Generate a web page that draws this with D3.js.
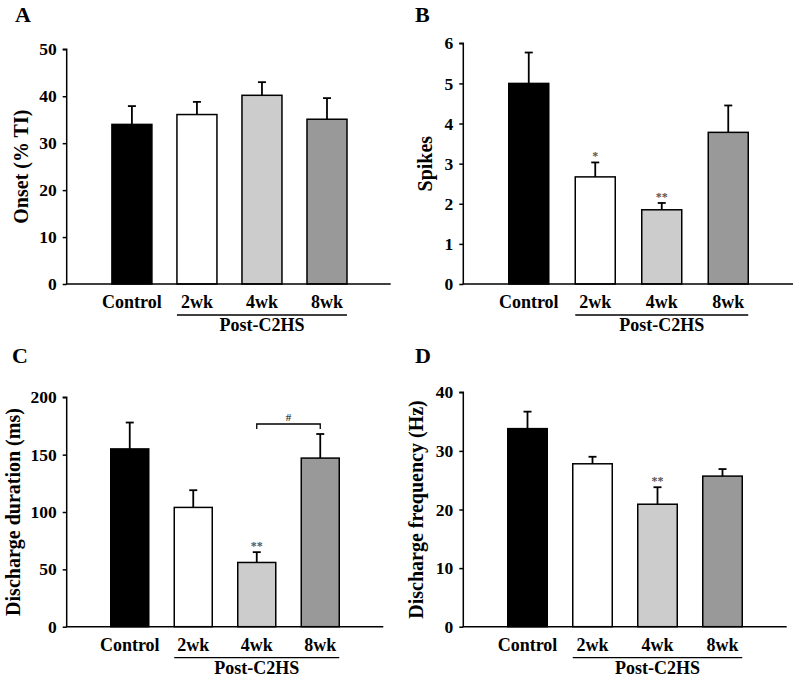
<!DOCTYPE html>
<html>
<head>
<meta charset="utf-8">
<script src="https://cdn.jsdelivr.net/npm/d3@7"></script>
<style>
  html, body { margin: 0; padding: 0; background: #fff; }
  svg { display: block; }
  text { font-family: "Liberation Serif", "Times New Roman", serif; font-weight: bold; }
</style>
</head>
<body>
<svg id="chart" width="800" height="679"></svg>
<script>
// ---- Data ----
const categories = ["Control", "2wk", "4wk", "8wk"];
const groupLabel = "Post-C2HS";
const barColors = ["#000000", "#ffffff", "#cccccc", "#999999"];

const onsetValues = [34.0, 36.1, 40.2, 35.1];
const onsetErrors = [3.9, 2.7, 2.8, 4.5];
const onsetTicks = [0, 10, 20, 30, 40, 50];
const onsetSig = ["", "", "", ""];

const spikesValues = [5.0, 2.67, 1.85, 3.78];
const spikesErrors = [0.77, 0.36, 0.17, 0.67];
const spikesTicks = [0, 1, 2, 3, 4, 5, 6];
const spikesSig = ["", "*", "**", ""];

const durationValues = [155, 104, 56, 147];
const durationErrors = [23, 15, 9, 21];
const durationTicks = [0, 50, 100, 150, 200];
const durationSig = ["", "", "**", ""];

const frequencyValues = [33.8, 27.8, 20.9, 25.7];
const frequencyErrors = [2.9, 1.2, 2.9, 1.2];
const frequencyTicks = [0, 10, 20, 30, 40];
const frequencySig = ["", "", "**", ""];

// ---- Layout ----
const panels = [
  { letter: "A", lx: 15, ly: 22, title: "Onset (% TI)", tx: 28, values: onsetValues, errors: onsetErrors, ticks: onsetTicks, sig: onsetSig,
    ax: 66.7, right: 390.7, top: 49.3, bottom: 284, band: [99.4, 359.5], bw: 40 },
  { letter: "B", lx: 415, ly: 22, title: "Spikes", tx: 432, values: spikesValues, errors: spikesErrors, ticks: spikesTicks, sig: spikesSig,
    ax: 463.3, right: 793, top: 43.3, bottom: 284, band: [495.5, 761.5], bw: 40 },
  { letter: "C", lx: 12, ly: 363, title: "Discharge duration (ms)", tx: 20, values: durationValues, errors: durationErrors, ticks: durationTicks, sig: durationSig,
    ax: 66.7, right: 383.3, top: 397.3, bottom: 626.7, band: [98, 352], bw: 38, bracket: [2, 3] },
  { letter: "D", lx: 415, ly: 363, title: "Discharge frequency (Hz)", tx: 423, values: frequencyValues, errors: frequencyErrors, ticks: frequencyTicks, sig: frequencySig,
    ax: 463.3, right: 786.7, top: 392.3, bottom: 626.7, band: [495, 755], bw: 39.5 }
];

const svg = d3.select("#chart");

panels.forEach(p => {
  const g = svg.append("g");
  const maxT = p.ticks[p.ticks.length - 1];
  const y = d3.scaleLinear().domain([0, maxT]).range([p.bottom, p.top]);
  const step = (p.band[1] - p.band[0]) / categories.length;
  const x = d3.scaleBand().domain(categories).range(p.band)
    .paddingInner((step - p.bw) / step).paddingOuter((step - p.bw) / step / 2);
  const bw = x.bandwidth();

  // panel letter
  g.append("text").attr("x", p.lx).attr("y", p.ly).attr("font-size", 22).text(p.letter);

  // y axis
  const yAxis = g.append("g").attr("transform", `translate(${p.ax},0)`)
    .call(d3.axisLeft(y).tickValues(p.ticks).tickSize(4).tickPadding(6).tickFormat(d3.format("d")));
  yAxis.select(".domain").attr("stroke", "#000").attr("stroke-width", 1.5).attr("d", `M-4,${p.top}H0V${p.bottom}`);
  yAxis.selectAll(".tick line").attr("stroke", "#000").attr("stroke-width", 1.5);
  yAxis.selectAll(".tick text").attr("font-size", 17.5).attr("font-family", "Liberation Serif").attr("font-weight", "bold").attr("fill", "#000");

  // y title
  g.append("text")
    .attr("transform", `translate(${p.tx},${(p.top + p.bottom) / 2}) rotate(-90)`)
    .attr("text-anchor", "middle").attr("font-size", 20).text(p.title);

  // bars
  g.selectAll("rect.bar").data(categories).join("rect")
    .attr("x", d => x(d)).attr("width", bw)
    .attr("y", (d, i) => y(p.values[i]))
    .attr("height", (d, i) => p.bottom - y(p.values[i]))
    .attr("fill", (d, i) => barColors[i])
    .attr("stroke", "#000").attr("stroke-width", 1.5);

  // error bars (upper only)
  categories.forEach((c, i) => {
    const cx = x(c) + bw / 2;
    const yTop = y(p.values[i] + p.errors[i]);
    g.append("line").attr("x1", cx).attr("x2", cx).attr("y1", y(p.values[i])).attr("y2", yTop)
      .attr("stroke", "#000").attr("stroke-width", 1.8);
    g.append("line").attr("x1", cx - 4).attr("x2", cx + 4).attr("y1", yTop).attr("y2", yTop)
      .attr("stroke", "#000").attr("stroke-width", 1.8);
    if (p.sig[i]) {
      g.append("text").attr("x", cx).attr("y", yTop - 2).attr("text-anchor", "middle")
        .attr("font-size", 12).attr("font-weight", "normal").attr("fill", "#555").text(p.sig[i]);
    }
  });

  // bracket
  if (p.bracket) {
    const xa = x(categories[p.bracket[0]]) + bw / 2;
    const xb = x(categories[p.bracket[1]]) + bw / 2;
    const yb = y(p.values[p.bracket[1]] + p.errors[p.bracket[1]]) - 10;
    g.append("path").attr("d", `M${xa},${yb + 5}V${yb}H${xb}V${yb + 5}`)
      .attr("fill", "none").attr("stroke", "#000").attr("stroke-width", 1.3);
    g.append("text").attr("x", (xa + xb) / 2).attr("y", yb - 3).attr("text-anchor", "middle")
      .attr("font-size", 11).attr("font-weight", "normal").attr("fill", "#444").text("#");
  }

  // x axis line
  g.append("line").attr("x1", p.ax - 0.75).attr("x2", p.right).attr("y1", p.bottom).attr("y2", p.bottom)
    .attr("stroke", "#000").attr("stroke-width", 1.5);

  // category labels
  g.selectAll("text.cat").data(categories).join("text")
    .attr("class", "cat")
    .attr("x", d => x(d) + bw / 2).attr("y", p.bottom + 24)
    .attr("text-anchor", "middle").attr("font-size", 18).text(d => d);

  // group underline and label
  const ux0 = x(categories[1]);
  const ux1 = x(categories[3]) + bw;
  g.append("line").attr("x1", ux0).attr("x2", ux1).attr("y1", p.bottom + 31).attr("y2", p.bottom + 31)
    .attr("stroke", "#000").attr("stroke-width", 1.3);
  g.append("text").attr("x", (ux0 + ux1) / 2).attr("y", p.bottom + 47)
    .attr("text-anchor", "middle").attr("font-size", 18).text(groupLabel);
});
</script>
</body>
</html>
